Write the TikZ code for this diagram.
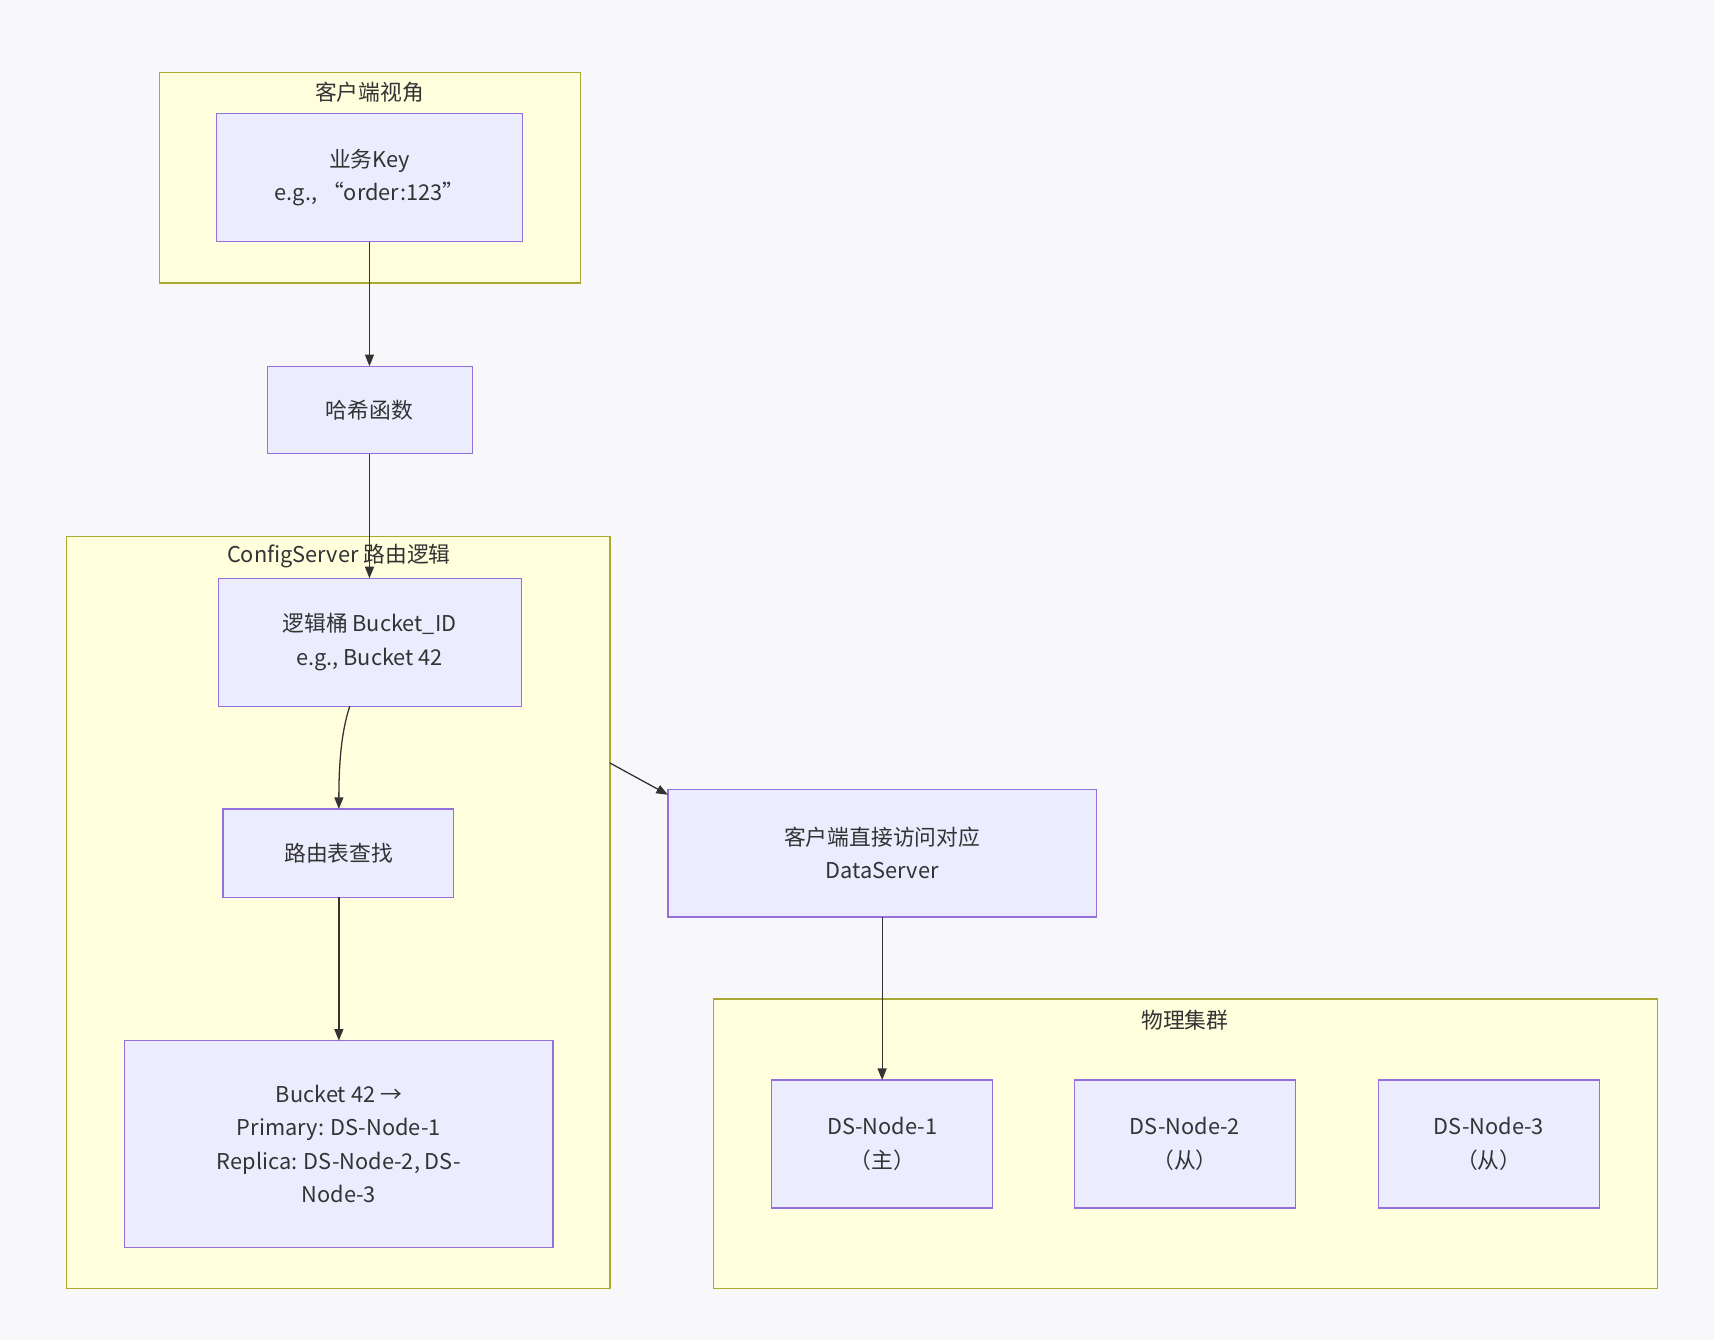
\documentclass[tikz,border=0pt]{standalone}
\usepackage{fontspec}
\setmainfont{Noto Sans CJK SC}
\usetikzlibrary{arrows.meta}
\definecolor{bg}{HTML}{F8F8FB}
\definecolor{cf}{HTML}{FFFFDE}
\definecolor{cs}{HTML}{AAAA33}
\definecolor{nf}{HTML}{ECECFF}
\definecolor{ns}{HTML}{9370DB}
\definecolor{tx}{HTML}{333333}
\begin{document}
\begin{tikzpicture}[x=0.03cm,y=-0.03cm,
  clu/.style={draw=cs,fill=cf,line width=1pt},
  box/.style={draw=ns,fill=nf,line width=1pt},
  lbl/.style={text=tx,font=\fontsize{17}{26}\selectfont,align=center},
  arr/.style={draw=tx,line width=1pt,-{Triangle[length=9pt,width=7pt]}}]
\fill[bg] (0,0) rectangle (1568,1226);
\useasboundingbox (0,0) rectangle (1568,1226);
% clusters
\draw[clu] (146,66) rectangle (531,259);
\node[lbl] (t1) at (338,84) {客户端视角};
\draw[clu] (61,491) rectangle (558,1179);
\coordinate (c2e) at (558,698);
\node[lbl] (t2) at (310,509) {ConfigServer 路由逻辑};
\draw[clu] (653,914) rectangle (1516,1179);
\node[lbl] (t3) at (1084,933) {物理集群};
% nodes
\draw[box] (198,104) rectangle (478,221);
\node[lbl] (key) at (338,162.5) {业务Key\\e.g., “order:123”};
\coordinate (keyb) at (338,221);
\draw[box] (245,335) rectangle (432,415);
\node[lbl] (hash) at (338,375) {哈希函数};
\coordinate (hasht) at (338,335);
\coordinate (hashb) at (338,415);
\draw[box] (200,529) rectangle (477,646);
\node[lbl] (bk) at (338,587.5) {逻辑桶 Bucket\_ID\\e.g., Bucket 42};
\coordinate (bkt) at (338,529);
\coordinate (bkb) at (320,646);
\draw[box] (204,740) rectangle (415,821);
\node[lbl] (lk) at (310,780.5) {路由表查找};
\coordinate (lkt) at (310,740);
\coordinate (lkb) at (310,821);
\draw[box] (114,952) rectangle (506,1141);
\node[lbl] (mp) at (310,1046.5) {Bucket 42 →\\Primary: DS-Node-1\\Replica: DS-Node-2, DS-\\Node-3};
\coordinate (mpt) at (310,952);
\draw[box] (611,722) rectangle (1003,839);
\node[lbl] (cl) at (807,780.5) {客户端直接访问对应\\DataServer};
\coordinate (clt) at (611,727);
\coordinate (clb) at (807,839);
\draw[box] (706,988) rectangle (908,1105);
\node[lbl] (d1) at (807,1046.5) {DS-Node-1\\（主）};
\coordinate (d1t) at (807,988);
\draw[box] (983,988) rectangle (1185,1105);
\node[lbl] (d2) at (1084,1046.5) {DS-Node-2\\（从）};
\draw[box] (1261,988) rectangle (1463,1105);
\node[lbl] (d3) at (1362,1046.5) {DS-Node-3\\（从）};
% edges
\draw[arr] (keyb) -- (hasht);
\draw[arr] (hashb) -- (bkt);
\draw[arr] (bkb) .. controls (312,670) and (310,700) .. (lkt);
\draw[arr] (lkb) -- (mpt);
\draw[arr] (c2e) -- (clt);
\draw[arr] (clb) -- (d1t);
\end{tikzpicture}
\end{document}
